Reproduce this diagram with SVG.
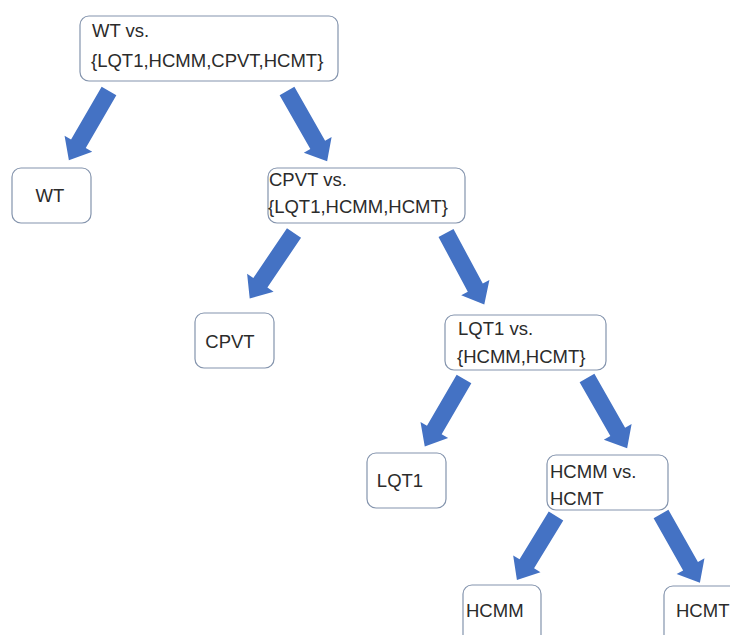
<svg xmlns="http://www.w3.org/2000/svg" width="730" height="635" viewBox="0 0 730 635">
<style>
.box{fill:#ffffff;stroke:#8494ad;stroke-width:1.2}
.t{font-family:"Liberation Sans",Arial,sans-serif;font-size:18.5px;fill:#2b2b2b}
.m{text-anchor:middle}
.arr{fill:#4472c4}
</style>
<rect width="730" height="635" fill="#ffffff"/>
<g id="connectors">
<path class="arr" transform="translate(109,91) rotate(120.1)" d="M0,-8.5 H61 V-16 L80,0 L61,16 V8.5 H0 Z"/>
<path class="arr" transform="translate(287,91) rotate(60.3)" d="M0,-8.5 H62 V-16 L81,0 L62,16 V8.5 H0 Z"/>
<path class="arr" transform="translate(294,233) rotate(124.1)" d="M0,-8.5 H60 V-16 L79,0 L60,16 V8.5 H0 Z"/>
<path class="arr" transform="translate(446,233) rotate(61.8)" d="M0,-8.5 H62 V-16 L81,0 L62,16 V8.5 H0 Z"/>
<path class="arr" transform="translate(464,379) rotate(120.2)" d="M0,-8.5 H59 V-16 L78,0 L59,16 V8.5 H0 Z"/>
<path class="arr" transform="translate(587,378) rotate(60.3)" d="M0,-8.5 H62 V-16 L81,0 L62,16 V8.5 H0 Z"/>
<path class="arr" transform="translate(556,516) rotate(121.4)" d="M0,-8.5 H56 V-16 L75,0 L56,16 V8.5 H0 Z"/>
<path class="arr" transform="translate(661,514) rotate(60.5)" d="M0,-8.5 H60 V-16 L79,0 L60,16 V8.5 H0 Z"/>
</g>
<g id="root">
<rect class="box" x="80" y="16" width="258" height="65" rx="9"/>
<text class="t" x="92" y="37">WT vs.</text>
<text class="t" x="91" y="67">{LQT1,HCMM,CPVT,HCMT}</text>
</g>
<g id="wt">
<rect class="box" x="12" y="168" width="79" height="55" rx="9"/>
<text class="t m" x="50" y="202">WT</text>
</g>
<g id="cpvt-vs">
<rect class="box" x="268" y="168" width="197" height="55" rx="9"/>
<text class="t" x="269" y="186">CPVT vs.</text>
<text class="t" x="268" y="213">{LQT1,HCMM,HCMT}</text>
</g>
<g id="cpvt">
<rect class="box" x="195" y="313" width="79" height="55" rx="9"/>
<text class="t m" x="230" y="348">CPVT</text>
</g>
<g id="lqt1-vs">
<rect class="box" x="445" y="315" width="161" height="55" rx="9"/>
<text class="t" x="458" y="335">LQT1 vs.</text>
<text class="t" x="457" y="363">{HCMM,HCMT}</text>
</g>
<g id="lqt1">
<rect class="box" x="367" y="453" width="79" height="55" rx="9"/>
<text class="t m" x="400" y="487">LQT1</text>
</g>
<g id="hcmm-vs">
<rect class="box" x="547" y="455" width="121" height="55" rx="9"/>
<text class="t" x="550" y="478">HCMM vs.</text>
<text class="t" x="550" y="505">HCMT</text>
</g>
<g id="hcmm">
<rect class="box" x="463" y="585" width="78" height="62" rx="9"/>
<text class="t" x="466" y="617">HCMM</text>
</g>
<g id="hcmt">
<rect class="box" x="664" y="586" width="80" height="62" rx="9"/>
<text class="t" x="676" y="617">HCMT</text>
</g>
</svg>
